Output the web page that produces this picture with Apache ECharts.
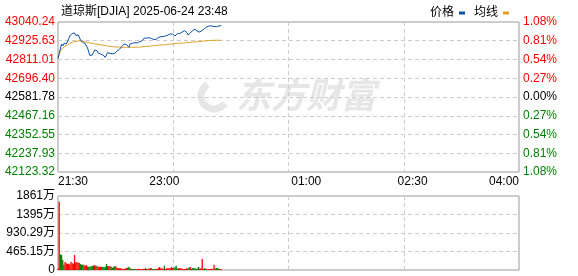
<!DOCTYPE html>
<html><head><meta charset="utf-8">
<script src="https://cdn.jsdelivr.net/npm/echarts@6/dist/echarts.min.js"></script>
<style>html,body{margin:0;padding:0;background:#fff}#c{width:578px;height:276px}</style>
</head><body><div id="c"></div>
<script>
const titleText = '道琼斯[DJIA] 2025-06-24 23:48';
const prevClose = 42581.78;
const priceTicks = [42123.32, 42237.93, 42352.55, 42467.16, 42581.78, 42696.40, 42811.01, 42925.63, 43040.24];
const pctLabels = ['1.08%', '0.81%', '0.54%', '0.27%', '0.00%', '0.27%', '0.54%', '0.81%', '1.08%'];
const volTicks = [0, 465.15, 930.29, 1395, 1861];
const volLabels = ['0', '465.15万', '930.29万', '1395万', '1861万'];
const timeTickMinutes = [0, 90, 210, 300, 390];
const timeLabels = ['21:30', '23:00', '01:00', '02:30', '04:00'];
const legendNames = ['价格', '均线'];

const price = [
42817.1, 42847.7, 42859.9, 42905.8, 42893.5, 42908.8, 42899.6, 42905.8, 42918.0, 42936.3,
42954.7, 42963.8, 42969.9, 42979.1, 42973.0, 42957.7, 42963.8, 42961.5, 42948.5, 42930.2,
42918.0, 42914.9, 42905.8, 42908.8, 42896.6, 42881.3, 42856.9, 42835.5, 42832.4, 42838.5,
42853.8, 42869.1, 42859.9, 42864.8, 42850.7, 42856.9, 42844.6, 42850.7, 42838.5, 42829.4,
42824.5, 42832.4, 42853.8, 42841.6, 42847.7, 42844.6, 42845.9, 42850.7, 42848.9, 42856.9,
42863.0, 42866.0, 42873.4, 42878.3, 42890.5, 42899.6, 42905.8, 42904.5, 42902.7, 42893.5,
42885.6, 42905.8, 42913.7, 42910.0, 42911.9, 42913.7, 42910.0, 42912.5, 42916.2, 42919.8,
42920.5, 42924.1, 42933.3, 42942.4, 42946.7, 42941.2, 42939.4, 42944.3, 42934.5, 42939.4,
42938.6, 42933.3, 42927.2, 42934.5, 42940.6, 42945.5, 42954.7, 42950.4, 42946.7, 42951.6,
42960.8, 42954.7, 42957.7, 42960.8, 42969.9, 42966.9, 42973.0, 42966.9, 42957.7, 42954.7,
42960.8, 42969.9, 42966.9, 42968.8, 42974.8, 42979.1, 42980.9, 42987.1, 42982.2, 42976.1,
42960.8, 42969.9, 42973.0, 42976.1, 42988.3, 42994.4, 42995.6, 42991.3, 42982.2, 42974.8,
42979.1, 42987.1, 42989.5, 42991.3, 43000.5, 43006.6, 43010.9, 43015.8, 43016.4, 43015.2,
43015.8, 43011.2, 43012.7, 43011.5, 43011.0, 43014.6, 43015.8, 43017.6, 43018.0
];
const avgPrice = [
42817.1, 42844.6, 42863.0, 42872.1, 42881.3, 42887.4, 42892.3, 42896.6, 42899.6, 42904.5,
42908.8, 42913.1, 42916.2, 42918.6, 42920.4, 42922.3, 42923.5, 42924.1, 42924.7, 42924.1,
42923.5, 42922.3, 42920.4, 42918.6, 42917.4, 42915.5, 42913.7, 42912.5, 42911.3, 42910.0,
42908.2, 42907.0, 42905.8, 42904.5, 42903.3, 42902.1, 42900.9, 42899.0, 42897.8, 42896.6,
42895.4, 42894.8, 42894.1, 42892.9, 42891.7, 42890.5, 42889.9, 42888.6, 42888.0, 42887.4,
42886.8, 42886.2, 42886.2, 42885.6, 42885.6, 42885.4, 42885.3, 42885.3, 42885.4, 42885.5,
42885.6, 42885.6, 42885.7, 42885.8, 42885.9, 42886.0, 42886.1, 42886.3, 42886.5, 42887.0,
42887.4, 42888.6, 42889.3, 42889.9, 42890.5, 42891.1, 42891.7, 42892.3, 42892.9, 42893.5,
42894.8, 42896.0, 42896.6, 42897.2, 42897.8, 42898.4, 42899.0, 42899.6, 42899.9, 42900.3,
42900.6, 42900.9, 42902.7, 42903.9, 42904.5, 42905.2, 42905.8, 42906.4, 42907.0, 42907.6,
42908.2, 42908.8, 42910.0, 42910.7, 42911.3, 42911.9, 42912.5, 42913.1, 42913.7, 42914.3,
42914.9, 42915.5, 42916.2, 42916.8, 42917.4, 42918.0, 42918.6, 42919.2, 42919.8, 42920.4,
42921.0, 42921.7, 42922.9, 42923.5, 42924.7, 42925.3, 42925.9, 42926.5, 42927.2, 42927.2,
42927.8, 42927.8, 42928.4, 42928.5, 42928.6, 42928.6, 42928.7, 42928.8, 42928.9
];
const volume = [
40, 1718, 394, 377, 250, 130, 200, 170, 150, 160,
140, 210, 170, 160, 377, 190, 200, 185, 180, 150,
130, 140, 126, 110, 126, 90, 84, 80, 95, 109,
109, 126, 100, 109, 84, 80, 84, 84, 75, 84,
70, 151, 100, 95, 100, 84, 59, 70, 100, 90,
59, 50, 42, 42, 40, 25, 30, 35, 50, 59,
84, 50, 25, 30, 25, 28, 25, 25, 30, 25,
25, 25, 30, 25, 50, 25, 25, 40, 50, 45,
25, 25, 25, 30, 25, 50, 75, 40, 42, 30,
109, 25, 42, 42, 45, 42, 75, 50, 50, 75,
109, 40, 42, 42, 42, 30, 25, 25, 25, 50,
40, 60, 75, 30, 50, 50, 45, 25, 40, 75,
30, 50, 277, 30, 42, 40, 25, 25, 25, 25,
30, 25, 134, 40, 50, 45, 40, 25, 25
];
const volUp = [
1,1,0,0,0,0,1,1,1,1,
1,1,1,1,1,0,1,1,1,0,
0,0,1,1,1,0,0,0,0,0,
0,1,1,0,1,1,1,0,0,0,
0,0,1,1,1,0,0,0,0,1,
1,1,1,1,1,1,1,1,1,0,
0,0,1,0,0,0,0,1,1,1,
1,1,1,1,0,1,1,1,1,0,
0,0,0,1,1,1,1,1,1,1,
0,1,1,1,1,1,1,1,0,0,
0,0,1,1,1,1,1,1,1,1,
0,0,1,1,0,0,0,0,0,0,
1,1,1,1,0,1,1,1,1,1,
1,1,1,0,0,0,0,1,1
];

const FONT = 'Arial, "Liberation Sans", "Noto Sans CJK SC", sans-serif';
const RED = '#ff0000', GREEN = '#008000', BLACK = '#000';
const dash = {color: '#cccccc', type: [4, 3], width: 1};
function idxOf(arr, v) {
  const n = parseFloat(v);
  let best = 0, bd = Infinity;
  arr.forEach((a, i) => { const d = Math.abs(a - n); if (d < bd) { bd = d; best = i; } });
  return best;
}
function priceColor(v) {
  const n = parseFloat(v);
  if (n > prevClose + 0.005) return RED;
  if (n < prevClose - 0.005) return GREEN;
  return BLACK;
}

const chart = echarts.init(document.getElementById('c'), null, {renderer: 'canvas'});
chart.setOption({
  animation: false,
  textStyle: {fontFamily: FONT},
  title: {text: titleText, left: 56, top: 1, textStyle: {fontSize: 12, fontWeight: 'normal', color: '#000', fontFamily: FONT}},
  legend: {
    data: legendNames, right: 64, top: 2, align: 'right', icon: 'rect', itemWidth: 6, itemHeight: 3, itemGap: 9,
    textStyle: {fontSize: 12, color: '#000', fontFamily: FONT}
  },
  graphic: [
    {type: 'text', left: 236, top: 77, z: -10, silent: true,
     style: {text: '东方财富', fontSize: 35, fontWeight: 'bold', fontStyle: 'italic', fill: '#e6e6e6', fontFamily: '"Noto Sans CJK SC", sans-serif'}},
    {type: 'arc', z: -10, silent: true, shape: {cx: 214, cy: 96, r: 13, startAngle: 0.6, endAngle: 4.2},
     style: {stroke: '#e6e6e6', lineWidth: 7, fill: 'none'}}
  ],
  grid: [
    {left: 58, right: 59, top: 22, height: 150, show: true, borderColor: '#9a9a9a', borderWidth: 1},
    {left: 58, right: 59, top: 196, height: 74, show: true, borderColor: '#9a9a9a', borderWidth: 1}
  ],
  xAxis: [
    {gridIndex: 0, type: 'value', min: 0, max: 390, interval: 97.5,
     axisLine: {show: false}, axisTick: {show: false}, splitLine: {show: true, lineStyle: dash},
     axisLabel: {customValues: timeTickMinutes, formatter: v => timeLabels[idxOf(timeTickMinutes, v)],
       alignMinLabel: 'left', alignMaxLabel: 'right', color: '#000', fontSize: 12, margin: 4, fontFamily: FONT}},
    {gridIndex: 1, type: 'value', min: 0, max: 390, interval: 97.5,
     axisLine: {show: false}, axisTick: {show: false}, axisLabel: {show: false}, splitLine: {show: true, lineStyle: dash}}
  ],
  yAxis: [
    {gridIndex: 0, type: 'value', position: 'left', min: priceTicks[0], max: priceTicks[priceTicks.length - 1],
     axisLine: {show: false}, axisTick: {show: false, customValues: priceTicks},
     splitLine: {show: true, lineStyle: dash},
     axisLabel: {customValues: priceTicks, formatter: v => priceTicks[idxOf(priceTicks, v)].toFixed(2),
       color: v => priceColor(v), fontSize: 12, margin: 3, fontFamily: FONT}},
    {gridIndex: 0, type: 'value', position: 'right', min: priceTicks[0], max: priceTicks[priceTicks.length - 1],
     axisLine: {show: false}, axisTick: {show: false, customValues: priceTicks}, splitLine: {show: false},
     axisLabel: {customValues: priceTicks, formatter: v => pctLabels[idxOf(priceTicks, v)],
       color: v => priceColor(v), fontSize: 12, margin: 4, fontFamily: FONT}},
    {gridIndex: 1, type: 'value', position: 'left', min: volTicks[0], max: volTicks[volTicks.length - 1],
     axisLine: {show: false}, axisTick: {show: false, customValues: volTicks},
     splitLine: {show: true, lineStyle: dash},
     axisLabel: {customValues: volTicks, formatter: v => volLabels[idxOf(volTicks, v)],
       color: '#000', fontSize: 12, margin: 3, fontFamily: FONT}}
  ],
  series: [
    {name: legendNames[0], type: 'line', xAxisIndex: 0, yAxisIndex: 0, showSymbol: false, symbol: 'none',
     lineStyle: {color: '#0a4fa3', width: 1}, itemStyle: {color: '#0a4fa3'},
     data: price.map((v, i) => [i, v]), z: 4},
    {name: legendNames[1], type: 'line', xAxisIndex: 0, yAxisIndex: 0, showSymbol: false, symbol: 'none',
     lineStyle: {color: '#e0a020', width: 1}, itemStyle: {color: '#e0a020'},
     data: avgPrice.map((v, i) => [i, v]), z: 3},
    {name: 'volume', type: 'bar', xAxisIndex: 1, yAxisIndex: 2, barWidth: 1.3,
     data: volume.map((v, i) => ({value: [i, v], itemStyle: {color: volUp[i] ? RED : GREEN}}))}
  ]
});
</script>
</body></html>
